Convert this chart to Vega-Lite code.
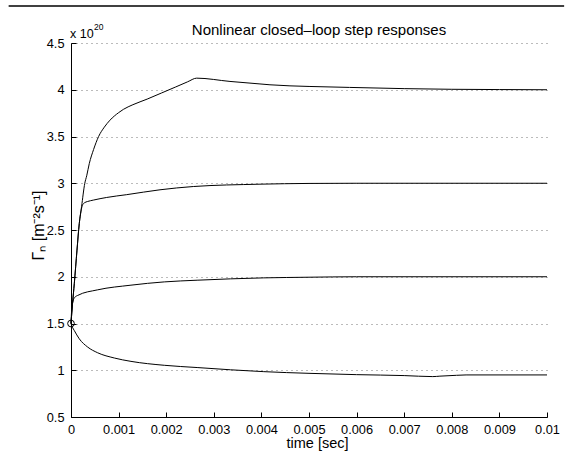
{
  "$schema": "https://vega.github.io/schema/vega-lite/v6.json",
  "width": 476,
  "height": 374,
  "autosize": "none",
  "padding": {"left": 71, "top": 43, "right": 26, "bottom": 40},
  "background": "white",
  "config": {
    "view": {"stroke": null},
    "font": "Liberation Sans",
    "axis": {
      "labelFont": "Liberation Sans",
      "titleFont": "Liberation Sans",
      "labelFontSize": 12.8,
      "titleFontSize": 14.5,
      "titleFontWeight": "normal",
      "labelColor": "black",
      "titleColor": "black",
      "domainColor": "black",
      "tickColor": "black",
      "tickSize": -5,
      "labelFlush": false,
      "labelOverlap": false
    }
  },
  "datasets": {
    "curves": [
      {"s": "a", "t": 0, "v": 1.5},
      {"s": "a", "t": 0.00003, "v": 1.7},
      {"s": "a", "t": 0.00007, "v": 1.93},
      {"s": "a", "t": 0.000126, "v": 2.285},
      {"s": "a", "t": 0.000174, "v": 2.57},
      {"s": "a", "t": 0.000222, "v": 2.75},
      {"s": "a", "t": 0.00029, "v": 3.0},
      {"s": "a", "t": 0.00033, "v": 3.08},
      {"s": "a", "t": 0.000384, "v": 3.21},
      {"s": "a", "t": 0.000474, "v": 3.36},
      {"s": "a", "t": 0.00058, "v": 3.5},
      {"s": "a", "t": 0.0007, "v": 3.6},
      {"s": "a", "t": 0.00082, "v": 3.675},
      {"s": "a", "t": 0.001, "v": 3.755},
      {"s": "a", "t": 0.0011, "v": 3.79},
      {"s": "a", "t": 0.0013, "v": 3.84},
      {"s": "a", "t": 0.0016, "v": 3.9},
      {"s": "a", "t": 0.0019, "v": 3.965},
      {"s": "a", "t": 0.0022, "v": 4.03},
      {"s": "a", "t": 0.00245, "v": 4.085},
      {"s": "a", "t": 0.00264, "v": 4.124},
      {"s": "a", "t": 0.00334, "v": 4.089},
      {"s": "a", "t": 0.00397, "v": 4.062},
      {"s": "a", "t": 0.00418, "v": 4.053},
      {"s": "a", "t": 0.00502, "v": 4.035},
      {"s": "a", "t": 0.00585, "v": 4.025},
      {"s": "a", "t": 0.007, "v": 4.012},
      {"s": "a", "t": 0.008, "v": 4.005},
      {"s": "a", "t": 0.009, "v": 4.002},
      {"s": "a", "t": 0.01, "v": 4.0},
      {"s": "b", "t": 0, "v": 1.5},
      {"s": "b", "t": 0.00003, "v": 1.7},
      {"s": "b", "t": 0.00007, "v": 1.93},
      {"s": "b", "t": 0.000126, "v": 2.285},
      {"s": "b", "t": 0.000174, "v": 2.57},
      {"s": "b", "t": 0.00021, "v": 2.7},
      {"s": "b", "t": 0.00024, "v": 2.765},
      {"s": "b", "t": 0.00028, "v": 2.79},
      {"s": "b", "t": 0.00035, "v": 2.805},
      {"s": "b", "t": 0.00047, "v": 2.82},
      {"s": "b", "t": 0.00075, "v": 2.848},
      {"s": "b", "t": 0.00117, "v": 2.878},
      {"s": "b", "t": 0.00187, "v": 2.93},
      {"s": "b", "t": 0.00257, "v": 2.965},
      {"s": "b", "t": 0.00397, "v": 2.99},
      {"s": "b", "t": 0.005, "v": 2.998},
      {"s": "b", "t": 0.006, "v": 3.0},
      {"s": "b", "t": 0.01, "v": 3.0},
      {"s": "c", "t": 0, "v": 1.5},
      {"s": "c", "t": 0.000013, "v": 1.64},
      {"s": "c", "t": 0.00003, "v": 1.71},
      {"s": "c", "t": 0.000055, "v": 1.76},
      {"s": "c", "t": 0.00009, "v": 1.785},
      {"s": "c", "t": 0.00014, "v": 1.8},
      {"s": "c", "t": 0.00056, "v": 1.86},
      {"s": "c", "t": 0.00126, "v": 1.91},
      {"s": "c", "t": 0.00196, "v": 1.945},
      {"s": "c", "t": 0.00265, "v": 1.963},
      {"s": "c", "t": 0.00405, "v": 1.988},
      {"s": "c", "t": 0.005, "v": 1.995},
      {"s": "c", "t": 0.006, "v": 2.0},
      {"s": "c", "t": 0.01, "v": 2.0},
      {"s": "d", "t": 0, "v": 1.5},
      {"s": "d", "t": 0.00003, "v": 1.46},
      {"s": "d", "t": 0.00007, "v": 1.424},
      {"s": "d", "t": 0.000174, "v": 1.336},
      {"s": "d", "t": 0.00035, "v": 1.248},
      {"s": "d", "t": 0.00056, "v": 1.187},
      {"s": "d", "t": 0.00091, "v": 1.131},
      {"s": "d", "t": 0.00126, "v": 1.095},
      {"s": "d", "t": 0.00196, "v": 1.053},
      {"s": "d", "t": 0.00265, "v": 1.029},
      {"s": "d", "t": 0.00335, "v": 1.005},
      {"s": "d", "t": 0.00405, "v": 0.985},
      {"s": "d", "t": 0.005, "v": 0.967},
      {"s": "d", "t": 0.006, "v": 0.953},
      {"s": "d", "t": 0.007, "v": 0.943},
      {"s": "d", "t": 0.0076, "v": 0.932},
      {"s": "d", "t": 0.00775, "v": 0.937},
      {"s": "d", "t": 0.0081, "v": 0.946},
      {"s": "d", "t": 0.0083, "v": 0.95},
      {"s": "d", "t": 0.01, "v": 0.95}
    ],
    "start": [{"t": 0, "v": 1.5}]
  },
  "layer": [
    {
      "data": {"name": "curves"},
      "mark": {"type": "line", "color": "black", "strokeWidth": 1, "interpolate": "monotone"},
      "encoding": {
        "x": {
          "field": "t", "type": "quantitative",
          "scale": {"domain": [0, 0.01], "nice": false, "zero": false},
          "axis": {
            "values": [0, 0.001, 0.002, 0.003, 0.004, 0.005, 0.006, 0.007, 0.008, 0.009, 0.01],
            "format": "~g", "grid": false, "title": "time [sec]",
            "labelPadding": 11, "titlePadding": 1, "titleX": 246
          }
        },
        "y": {
          "field": "v", "type": "quantitative",
          "scale": {"domain": [0.5, 4.5], "nice": false, "zero": false},
          "axis": {
            "values": [0.5, 1, 1.5, 2, 2.5, 3, 3.5, 4, 4.5],
            "format": "~g", "grid": true, "gridColor": "#777", "gridDash": [1, 4], "gridWidth": 1,
            "title": "\u0393\u2099 [m\u207b\u00b2s\u207b\u00b9]", "titleFontSize": 16, "labelPadding": 12, "titlePadding": 0,
            "titleY": 182
          }
        },
        "detail": {"field": "s"}
      }
    },
    {
      "data": {"name": "start"},
      "mark": {"type": "point", "shape": "circle", "filled": false, "stroke": "black", "strokeWidth": 1, "size": 45, "opacity": 1},
      "encoding": {
        "x": {"field": "t", "type": "quantitative"},
        "y": {"field": "v", "type": "quantitative"}
      }
    },
    {
      "data": {"values": [{}]},
      "mark": {"type": "text", "text": "Nonlinear closed\u2013loop step responses", "align": "center", "baseline": "alphabetic", "fontSize": 15, "dy": -8, "color": "black"},
      "encoding": {"x": {"datum": 0.00521, "type": "quantitative"}, "y": {"datum": 4.5, "type": "quantitative"}}
    },
    {
      "data": {"values": [{}]},
      "mark": {"type": "text", "text": "x 10", "align": "left", "baseline": "alphabetic", "fontSize": 12.5, "dy": -5, "dx": -1, "color": "black"},
      "encoding": {"x": {"datum": 0, "type": "quantitative"}, "y": {"datum": 4.5, "type": "quantitative"}}
    },
    {
      "data": {"values": [{}]},
      "mark": {"type": "text", "text": "20", "align": "left", "baseline": "alphabetic", "fontSize": 8.5, "dy": -13, "dx": 23, "color": "black"},
      "encoding": {"x": {"datum": 0, "type": "quantitative"}, "y": {"datum": 4.5, "type": "quantitative"}}
    },
    {
      "data": {"values": [{}]},
      "mark": {"type": "rule", "color": "black", "strokeWidth": 1.5, "clip": false},
      "encoding": {
        "x": {"datum": -0.00131, "type": "quantitative"},
        "x2": {"datum": 0.01036},
        "y": {"datum": 4.895, "type": "quantitative"}
      }
    }
  ]
}
